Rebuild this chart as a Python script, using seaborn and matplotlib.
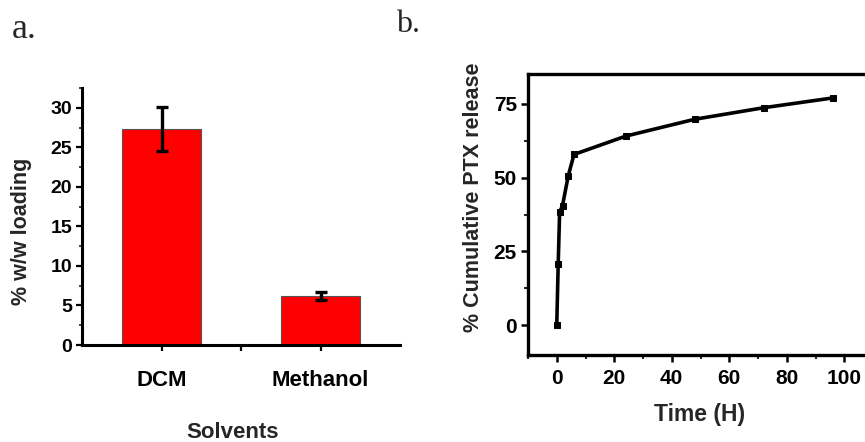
import matplotlib
matplotlib.use("Agg")
import matplotlib.pyplot as plt
from matplotlib.ticker import MultipleLocator, FixedLocator
import seaborn as sns
import pandas as pd

# ---- data ----
solvents = ["DCM", "Methanol"]
loading = [27.3, 6.2]
loading_err = [2.8, 0.5]

time_h = [0, 0.5, 1, 2, 4, 6, 24, 48, 72, 96]
release = [0, 20.6, 38.3, 40.5, 50.6, 57.8, 64.0, 69.7, 73.6, 76.9]

sns.set_theme(style="ticks")
plt.rcParams["font.family"] = ["Liberation Sans", "DejaVu Sans"]
plt.rcParams["font.weight"] = "bold"

W, H = 865, 442
fig = plt.figure(figsize=(W / 100, H / 100), dpi=100)

def frac(l, t, r, b):
    return [l / W, (H - b) / H, (r - l) / W, (b - t) / H]

# ---------- panel a ----------
axa = fig.add_axes(frac(82, 88, 400, 345))
dfa = pd.DataFrame({"solvent": solvents, "loading": loading})
sns.barplot(data=dfa, x="solvent", y="loading", color="#ff0000", width=0.5,
            edgecolor="#555555", linewidth=0.8, saturation=1, ax=axa, errorbar=None)
axa.errorbar(x=list(range(len(solvents))), y=loading, yerr=loading_err, fmt="none",
             ecolor="black", elinewidth=2.4, capsize=4.5, capthick=2.4)
axa.set_xlim(-0.5, 1.5)
axa.set_ylim(0, 32.5)
axa.yaxis.set_major_locator(MultipleLocator(5))
axa.yaxis.set_minor_locator(MultipleLocator(2.5))
axa.xaxis.set_minor_locator(FixedLocator([0.5]))
for s in ["top", "right"]:
    axa.spines[s].set_visible(False)
for s in ["left", "bottom"]:
    axa.spines[s].set_linewidth(2.2)
    axa.spines[s].set_color("black")
axa.tick_params(axis="y", which="major", length=4, width=1.6, pad=3, labelsize=14, colors="black")
axa.tick_params(axis="y", which="minor", length=2.5, width=1.2)
axa.tick_params(axis="x", which="both", length=4, width=1.6, pad=14, labelsize=16, colors="black")
axa.set_xlabel("")
axa.set_ylabel("")
for lab in axa.get_xticklabels() + axa.get_yticklabels():
    lab.set_fontweight("bold")
fig.text(22 / W, 1 - 231 / H, "% w/w loading", rotation=90, ha="center", va="center",
         fontsize=15.5, fontweight="bold")
fig.text(233 / W, 1 - 432 / H, "Solvents", ha="center", va="center",
         fontsize=16, fontweight="bold")

# ---------- panel b ----------
axb = fig.add_axes(frac(528, 74, 873, 355))
dfb = pd.DataFrame({"time": time_h, "release": release})
sns.lineplot(data=dfb, x="time", y="release", color="black", linewidth=2.6,
             marker="s", markersize=4.5, markeredgecolor="black", ax=axb)
axb.set_xlim(-10, 110)
axb.set_ylim(-10, 85)
axb.xaxis.set_major_locator(FixedLocator([0, 20, 40, 60, 80, 100]))
axb.xaxis.set_minor_locator(FixedLocator([-10, 10, 30, 50, 70, 90]))
axb.yaxis.set_major_locator(FixedLocator([0, 25, 50, 75]))
axb.yaxis.set_minor_locator(FixedLocator([12.5, 37.5, 62.5]))
for s in ["left", "bottom", "top", "right"]:
    axb.spines[s].set_linewidth(2.4)
    axb.spines[s].set_color("black")
axb.tick_params(axis="both", which="major", length=5, width=1.8, labelsize=15, colors="black")
axb.tick_params(axis="both", which="minor", length=3, width=1.5)
axb.tick_params(axis="y", pad=3)
axb.tick_params(axis="x", pad=5)
axb.set_xlabel("")
axb.set_ylabel("")
for lab in axb.get_xticklabels() + axb.get_yticklabels():
    lab.set_fontweight("bold")
fig.text(474 / W, 1 - 197 / H, "% Cumulative PTX release", rotation=90, ha="center",
         va="center", fontsize=15.5, fontweight="bold")
fig.text(700 / W, 1 - 415 / H, "Time (H)", ha="center", va="center",
         fontsize=16.5, fontweight="bold")

# ---------- panel labels ----------
fig.text(12 / W, 1 - 38 / H, "a.", ha="left", va="baseline", fontsize=26,
         family=["Liberation Serif", "DejaVu Serif"], fontweight="normal")
fig.text(396 / W, 1 - 32 / H, "b.", ha="left", va="baseline", fontsize=23,
         family=["Liberation Serif", "DejaVu Serif"], fontweight="normal")

fig.savefig("out.png", dpi=100, facecolor="white")
